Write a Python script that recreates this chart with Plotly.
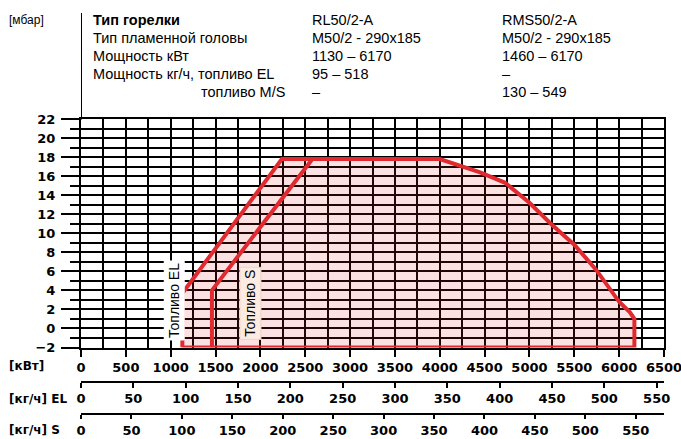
import plotly.graph_objects as go

# ---- data ----
# Working field, fuel EL (outer envelope): kW, mbar
el_kw   = [1130, 1130, 2240, 4000, 4450, 4730, 5000, 5250, 5500, 5740, 6000, 6120, 6170, 6170, 1130]
el_mbar = [-2,   3.7,  17.8, 17.8, 16.4, 15.3, 13.2, 10.9, 8.8,  6.2,  2.8,  1.7,  1.0,  -2,   -2]
# Left boundary for fuel S
s_kw    = [1460, 1460, 2580]
s_mbar  = [-2,   4.0,  17.8]

# Secondary scales (kg/h) - axis ends
el_kgh_max = 557
s_kgh_max = 578
el_kgh_range = [95, 518]
s_kgh_range = [130, 549]

header_rows = [
    ("Тип горелки", "RL50/2-A", "RMS50/2-A"),
    ("Тип пламенной головы", "M50/2 - 290x185", "M50/2 - 290x185"),
    ("Мощность кВт", "1130 – 6170", "1460 – 6170"),
    ("Мощность кг/ч, топливо EL", "95 – 518", "–"),
    ("топливо M/S", "–", "130 – 549"),
]

RED = "#e02a2f"
W, H = 681, 439
ML, MR, MT, MB = 81, 17, 119, 0
PW, PH = W - ML - MR, H - MT - MB

def px(xp):
    return (xp - ML) / PW

def py(yp):
    return (H - MB - yp) / PH

ydom_bottom = py(347.5)

tickfont = dict(family="DejaVu Sans", size=13, weight="bold", color="black")
hfont = dict(family="Liberation Sans", size=14.5, color="black")

fig = go.Figure()
fig.add_trace(go.Scatter(x=el_kw, y=el_mbar, mode="lines", fill="toself",
                         fillcolor="rgba(224,42,47,0.14)",
                         line=dict(color=RED, width=4), hoverinfo="skip", showlegend=False))
fig.add_trace(go.Scatter(x=s_kw, y=s_mbar, mode="lines",
                         line=dict(color=RED, width=4), hoverinfo="skip", showlegend=False))
fig.add_trace(go.Scatter(x=el_kgh_range, y=[-2, -2], xaxis="x2", mode="markers",
                         marker=dict(opacity=0), hoverinfo="skip", showlegend=False))
fig.add_trace(go.Scatter(x=s_kgh_range, y=[-2, -2], xaxis="x3", mode="markers",
                         marker=dict(opacity=0), hoverinfo="skip", showlegend=False))

grid = dict(showgrid=True, gridcolor="black", gridwidth=2)
fig.update_layout(
    template="none",
    width=W, height=H,
    margin=dict(l=ML, r=MR, t=MT, b=MB, pad=0),
    paper_bgcolor="white", plot_bgcolor="white",
    showlegend=False,
    xaxis=dict(range=[0, 6500], dtick=500, tick0=0, ticks="outside", ticklen=7,
               tickwidth=2, tickcolor="black", tickfont=tickfont,
               showline=True, mirror=True, linecolor="black", linewidth=2,
               zeroline=False, layer="below traces", automargin=False,
               ticklabeloverflow="allow",
               minor=dict(dtick=250, showgrid=True, gridcolor="black", gridwidth=2, ticks=""),
               **grid),
    yaxis=dict(range=[-2, 22], dtick=2, tick0=0, ticks="outside", ticklen=18,
               tickwidth=2, tickcolor="black", tickfont=tickfont,
               showline=True, mirror=True, linecolor="black", linewidth=2,
               zeroline=False, domain=[ydom_bottom, 1], automargin=False,
               ticklabelstandoff=3, ticklabeloverflow="allow",
               minor=dict(dtick=1, showgrid=True, gridcolor="black", gridwidth=2,
                          ticks="outside", ticklen=9, tickwidth=2, tickcolor="black"),
               **grid),
    xaxis2=dict(range=[0, el_kgh_max], dtick=50, tick0=0, overlaying="x", anchor="free",
                position=py(381.7), side="bottom", ticks="outside", ticklen=5,
                tickwidth=2, tickcolor="black", tickfont=tickfont, showgrid=False,
                showline=True, linecolor="black", linewidth=2, zeroline=False,
                automargin=False, ticklabeloverflow="allow"),
    xaxis3=dict(range=[0, s_kgh_max], dtick=50, tick0=0, overlaying="x", anchor="free",
                position=py(414), side="bottom", ticks="outside", ticklen=4,
                tickwidth=2, tickcolor="black", tickfont=tickfont, showgrid=False,
                showline=True, linecolor="black", linewidth=2, zeroline=False,
                automargin=False, ticklabeloverflow="allow"),
)

# vertical divider extending from the 0 kW line into the header
fig.add_shape(type="line", xref="x", x0=0, x1=0, yref="paper", y0=py(119.5), y1=py(13),
              line=dict(color="black", width=2))

ann = []
ann.append(dict(text="[мбар]", x=px(7), y=py(20), xanchor="left", yanchor="middle",
                font=dict(family="Liberation Sans", size=12, color="black")))
row_y = [20, 38, 56, 74, 92]
for i, (lab, a, b) in enumerate(header_rows):
    f = dict(hfont)
    if i == 0:
        f = dict(hfont, weight="bold")
    if i == 4:
        ann.append(dict(text=lab, x=px(287), y=py(row_y[i]), xanchor="right", yanchor="middle", font=hfont))
    else:
        ann.append(dict(text=lab, x=px(91), y=py(row_y[i]), xanchor="left", yanchor="middle", font=f))
    ann.append(dict(text=a, x=px(310), y=py(row_y[i]), xanchor="left", yanchor="middle", font=hfont))
    ann.append(dict(text=b, x=px(500), y=py(row_y[i]), xanchor="left", yanchor="middle", font=hfont))

ufont = dict(family="DejaVu Sans", size=12, weight="bold", color="black")
ann.append(dict(text="[кВт]", x=px(7), y=py(366), xanchor="left", yanchor="middle", font=ufont))
ann.append(dict(text="[кг/ч] EL", x=px(7), y=py(399), xanchor="left", yanchor="middle", font=ufont))
ann.append(dict(text="[кг/ч] S", x=px(7), y=py(430), xanchor="left", yanchor="middle", font=ufont))

for a in ann:
    a.update(xref="paper", yref="paper", showarrow=False)
    fig.add_annotation(**a)

# rotated fuel labels
lfont = dict(family="Liberation Sans", size=14, color="black")
fig.add_annotation(text="Топливо EL", x=1038, y=2.9, xref="x", yref="y", textangle=-90,
                   showarrow=False, font=lfont, bgcolor="white", borderpad=2)
fig.add_annotation(text="Топливо S", x=1886, y=2.6, xref="x", yref="y", textangle=-90,
                   showarrow=False, font=lfont, bgcolor="#fcebe3", bordercolor="#f1d3c6",
                   borderwidth=1, borderpad=2)

fig.write_html("out.html", config={"displayModeBar": False},
               post_script="document.body.style.margin='0';document.body.style.overflow='hidden';")
